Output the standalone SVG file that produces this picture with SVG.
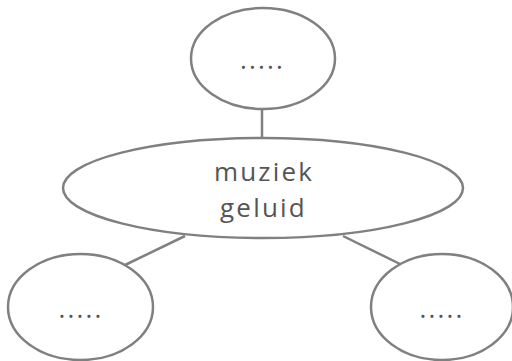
<svg xmlns="http://www.w3.org/2000/svg" width="512" height="361" viewBox="0 0 512 361">
<style>
.n{fill:#fff;stroke:#808080;stroke-width:2.5}
.c{stroke:#808080;stroke-width:2.5;fill:none}
.t{font-family:"Open Sans","DejaVu Sans",sans-serif;font-size:26px;fill:#555;text-anchor:middle;letter-spacing:2.2px}
</style>
<rect width="512" height="361" fill="#fff"/>
<g id="connectors">
<line class="c" x1="262" y1="109" x2="262" y2="138"/>
<line class="c" x1="185" y1="236" x2="125" y2="265"/>
<line class="c" x1="343" y1="236" x2="400" y2="264"/>
</g>
<g id="top">
<ellipse class="n" cx="263" cy="58.5" rx="72" ry="50.5"/>
<text class="t" x="262.5" y="69">.....</text>
</g>
<g id="center">
<ellipse class="n" cx="263" cy="188" rx="200" ry="50"/>
<text class="t" x="264" y="181">muziek</text>
<text class="t" x="263.5" y="217">geluid</text>
</g>
<g id="left">
<ellipse class="n" cx="80.5" cy="307" rx="72.5" ry="53"/>
<text class="t" x="81" y="318">.....</text>
</g>
<g id="right">
<ellipse class="n" cx="442" cy="307" rx="71" ry="53"/>
<text class="t" x="442" y="318">.....</text>
</g>
</svg>
